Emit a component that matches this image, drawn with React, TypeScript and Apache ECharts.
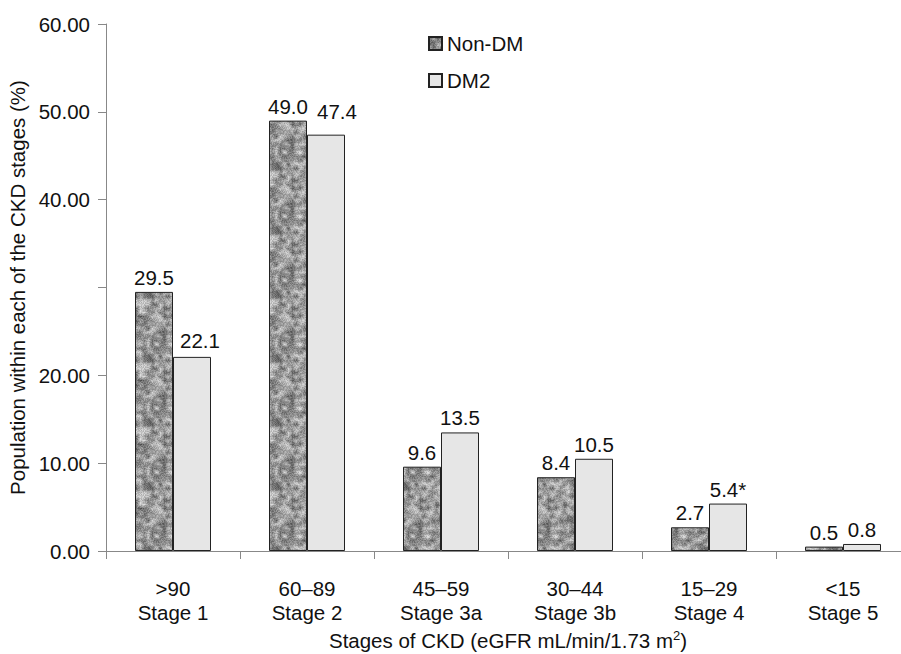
import React, { useEffect, useRef } from "react";
import * as echarts from "echarts";

const categories = [">90\nStage 1", "60–89\nStage 2", "45–59\nStage 3a", "30–44\nStage 3b", "15–29\nStage 4", "<15\nStage 5"];
const nonDM = [29.5, 49.0, 9.6, 8.4, 2.7, 0.5];
const dm2 = [22.1, 47.4, 13.5, 10.5, 5.4, 0.8];
const dm2Marks = ["", "", "", "", "*", ""];
const yTicks = [0, 10, 20, 30, 40, 50, 60];
const hiddenYTick = 30;

function makeTexture(): HTMLCanvasElement {
  const size = 64;
  const c = document.createElement("canvas");
  c.width = size;
  c.height = size;
  const ctx = c.getContext("2d")!;
  const img = ctx.createImageData(size, size);
  const hash = (x: number, y: number) => {
    let h = (x * 374761393 + y * 668265263) | 0;
    h = (h ^ (h >>> 13)) * 1274126177;
    h = h ^ (h >>> 16);
    return ((h >>> 0) % 1000) / 1000;
  };
  const cell = 4;
  const n = size / cell;
  const smooth = (x: number, y: number) => {
    const gx = x / cell;
    const gy = y / cell;
    const x0 = Math.floor(gx);
    const y0 = Math.floor(gy);
    const fx = gx - x0;
    const fy = gy - y0;
    const a = hash(x0 % n, y0 % n);
    const b = hash((x0 + 1) % n, y0 % n);
    const cc = hash(x0 % n, (y0 + 1) % n);
    const d = hash((x0 + 1) % n, (y0 + 1) % n);
    const top = a + (b - a) * fx;
    const bot = cc + (d - cc) * fx;
    return top + (bot - top) * fy;
  };
  for (let y = 0; y < size; y++) {
    for (let x = 0; x < size; x++) {
      const v = 0.7 * smooth(x, y) + 0.3 * hash(x, y + 101);
      const g = Math.round(70 + v * 160);
      const i = (y * size + x) * 4;
      img.data[i] = g;
      img.data[i + 1] = g;
      img.data[i + 2] = g;
      img.data[i + 3] = 255;
    }
  }
  ctx.putImageData(img, 0, 0);
  return c;
}

export default function App() {
  const ref = useRef<HTMLDivElement>(null);
  useEffect(() => {
    if (!ref.current) return;
    const chart = echarts.init(ref.current, null, { renderer: "svg" });
    const font = "'Liberation Sans', Arial, sans-serif";
    const fs = 20.5;
    const texture = makeTexture();
    // labels nudged aside in the original where they would crowd the neighbouring bar
    const dm2LabelShift: Record<number, number[]> = { 0: [8, -2], 1: [11, -9] };
    chart.setOption({
      animation: false,
      textStyle: { fontFamily: font, color: "#111" },
      legend: {
        orient: "vertical",
        left: 423,
        top: 28,
        itemWidth: 13,
        itemHeight: 13,
        itemGap: 16,
        icon: "rect",
        textStyle: { fontSize: fs, color: "#111", fontFamily: font },
        data: ["Non-DM", "DM2"],
      },
      grid: {
        left: 106,
        top: 24,
        width: 804,
        bottom: 103,
        outerBoundsMode: "none",
        containLabel: false,
      },
      xAxis: {
        type: "category",
        data: categories,
        name: "Stages of CKD (eGFR mL/min/1.73 m{sup|2})",
        nameLocation: "middle",
        nameGap: 78,
        nameTextStyle: {
          fontSize: fs,
          color: "#111",
          fontFamily: font,
          rich: { sup: { fontSize: 13, verticalAlign: "top", padding: [0, 0, 10, 0], color: "#111", fontFamily: font } },
        },
        axisLine: { show: true, lineStyle: { color: "#888", width: 1 } },
        axisTick: { show: true, alignWithLabel: false, length: 8, lineStyle: { color: "#888" } },
        axisLabel: { interval: 0, fontSize: fs, color: "#111", lineHeight: 24, margin: 25, fontFamily: font },
        splitLine: { show: false },
      },
      yAxis: {
        type: "value",
        min: yTicks[0],
        max: yTicks[yTicks.length - 1],
        interval: 10,
        name: "Population within each of the CKD stages (%)",
        nameLocation: "middle",
        nameGap: 71,
        nameTextStyle: { fontSize: fs, color: "#111", fontFamily: font },
        axisLine: { show: true, lineStyle: { color: "#888", width: 1 } },
        axisTick: { show: true, length: 8, lineStyle: { color: "#888" } },
        axisLabel: {
          fontSize: fs,
          color: "#111",
          margin: 16,
          fontFamily: font,
          formatter: (v: number) => (v === hiddenYTick ? "" : v.toFixed(2)),
        },
        splitLine: { show: false },
      },
      series: [
        {
          name: "Non-DM",
          type: "bar",
          data: nonDM,
          barWidth: 38,
          barGap: "0%",
          itemStyle: {
            color: { image: texture, repeat: "repeat" },
            borderColor: "#222",
            borderWidth: 1,
          },
          label: {
            show: true,
            position: "top",
            distance: 4,
            fontSize: fs,
            color: "#111",
            fontFamily: font,
            formatter: (p: any) => Number(p.value).toFixed(1),
          },
        },
        {
          name: "DM2",
          type: "bar",
          data: dm2.map((v, i) => (dm2LabelShift[i] ? { value: v, label: { offset: dm2LabelShift[i] } } : v)),
          barWidth: 38,
          barGap: "0%",
          itemStyle: { color: "#e6e6e6", borderColor: "#222", borderWidth: 1 },
          label: {
            show: true,
            position: "top",
            distance: 4,
            fontSize: fs,
            color: "#111",
            fontFamily: font,
            formatter: (p: any) => Number(p.value).toFixed(1) + dm2Marks[p.dataIndex],
          },
        },
      ],
    });
    return () => chart.dispose();
  }, []);
  return <div ref={ref} style={{ position: "absolute", left: 0, top: 0, width: 901, height: 654 }} />;
}
